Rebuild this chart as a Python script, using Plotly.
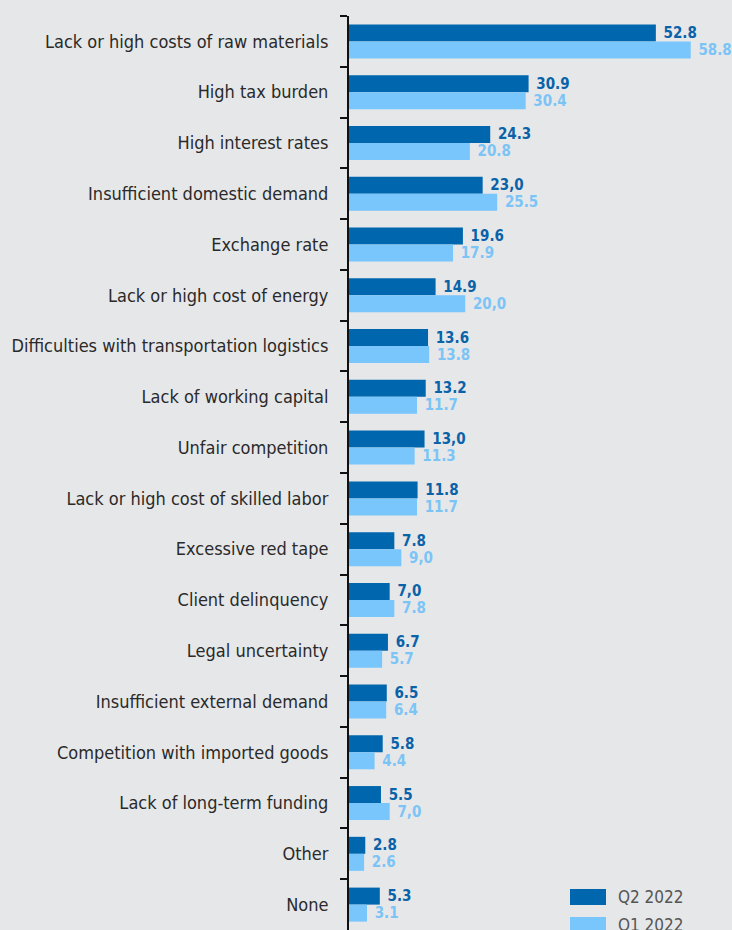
import plotly.graph_objects as go

categories = [
    "Lack or high costs of raw materials",
    "High tax burden",
    "High interest rates",
    "Insufficient domestic demand",
    "Exchange rate",
    "Lack or high cost of energy",
    "Difficulties with transportation logistics",
    "Lack of working capital",
    "Unfair competition",
    "Lack or high cost of skilled labor",
    "Excessive red tape",
    "Client delinquency",
    "Legal uncertainty",
    "Insufficient external demand",
    "Competition with imported goods",
    "Lack of long-term funding",
    "Other",
    "None",
]
q2_2022 = [52.8, 30.9, 24.3, 23.0, 19.6, 14.9, 13.6, 13.2, 13.0, 11.8, 7.8, 7.0, 6.7, 6.5, 5.8, 5.5, 2.8, 5.3]
q1_2022 = [58.8, 30.4, 20.8, 25.5, 17.9, 20.0, 13.8, 11.7, 11.3, 11.7, 9.0, 7.8, 5.7, 6.4, 4.4, 7.0, 2.6, 3.1]
q2_labels = ["52.8", "30.9", "24.3", "23,0", "19.6", "14.9", "13.6", "13.2", "13,0", "11.8", "7.8", "7,0", "6.7", "6.5", "5.8", "5.5", "2.8", "5.3"]
q1_labels = ["58.8", "30.4", "20.8", "25.5", "17.9", "20,0", "13.8", "11.7", "11.3", "11.7", "9,0", "7.8", "5.7", "6.4", "4.4", "7,0", "2.6", "3.1"]
series_names = ["Q2 2022", "Q1 2022"]

DARK = "#0067ae"
LIGHT = "#78c6fc"
DARK_TXT = "#0a62a8"
LIGHT_TXT = "#7cc4f6"
BG = "#e6e7e9"
FONT = "DejaVu Sans Condensed, Liberation Sans Narrow, sans-serif"
PAD = "\u00a0"

W, H = 732, 930
ML, MR, MT, MB = 349, 0, 16, 0


def px_x(p):
    return (p - ML) / (W - ML - MR)


def px_y(p):
    return (H - MB - p) / (H - MT - MB)


fig = go.Figure()
fig.add_trace(go.Bar(
    y=categories, x=q2_2022, orientation="h", name=series_names[0],
    marker=dict(color=DARK, line=dict(width=0)),
    text=q2_labels, texttemplate=PAD + "%{text}", textposition="outside",
    constraintext="none", cliponaxis=False,
    textfont=dict(family=FONT, size=15, color=DARK_TXT, weight="bold"),
    showlegend=False, hoverinfo="skip",
))
fig.add_trace(go.Bar(
    y=categories, x=q1_2022, orientation="h", name=series_names[1],
    marker=dict(color=LIGHT, line=dict(width=0)),
    text=q1_labels, texttemplate=PAD + "%{text}", textposition="outside",
    constraintext="none", cliponaxis=False,
    textfont=dict(family=FONT, size=15, color=LIGHT_TXT, weight="bold"),
    showlegend=False, hoverinfo="skip",
))

# legend (bottom-right, partially cut by the figure edge as in the original)
shapes = []
annotations = []
for i, (name, col) in enumerate(zip(series_names, [DARK, LIGHT])):
    top = 889 + i * 28
    shapes.append(dict(type="rect", xref="paper", yref="paper",
                       x0=px_x(570), x1=px_x(606), y0=px_y(top + 16), y1=px_y(top),
                       fillcolor=col, line=dict(width=0), layer="above"))
    annotations.append(dict(xref="paper", yref="paper", x=px_x(616), y=px_y(top + 8),
                            xanchor="left", yanchor="middle", text=name, showarrow=False,
                            font=dict(family=FONT, size=17, color="#555555")))

fig.update_layout(
    width=W, height=H,
    margin=dict(l=ML, r=MR, t=MT, b=MB),
    paper_bgcolor=BG, plot_bgcolor=BG,
    barmode="group", bargap=0.33, bargroupgap=0,
    font=dict(family=FONT, size=18, color="#2a2a2a"),
    showlegend=False,
    shapes=shapes, annotations=annotations,
)
fig.update_xaxes(range=[0, 65.9], showgrid=False, zeroline=False,
                 showticklabels=False, showline=False)
fig.update_yaxes(autorange="reversed", type="category", showgrid=False,
                 showline=True, linecolor="#111111", linewidth=2,
                 ticks="outside", tickson="boundaries", ticklen=7,
                 tickcolor="#111111", tickwidth=2, ticklabelstandoff=15,
                 tickfont=dict(family=FONT, size=18, color="#2a2a2a"),
                 zeroline=False)

fig.write_html("out.html")
